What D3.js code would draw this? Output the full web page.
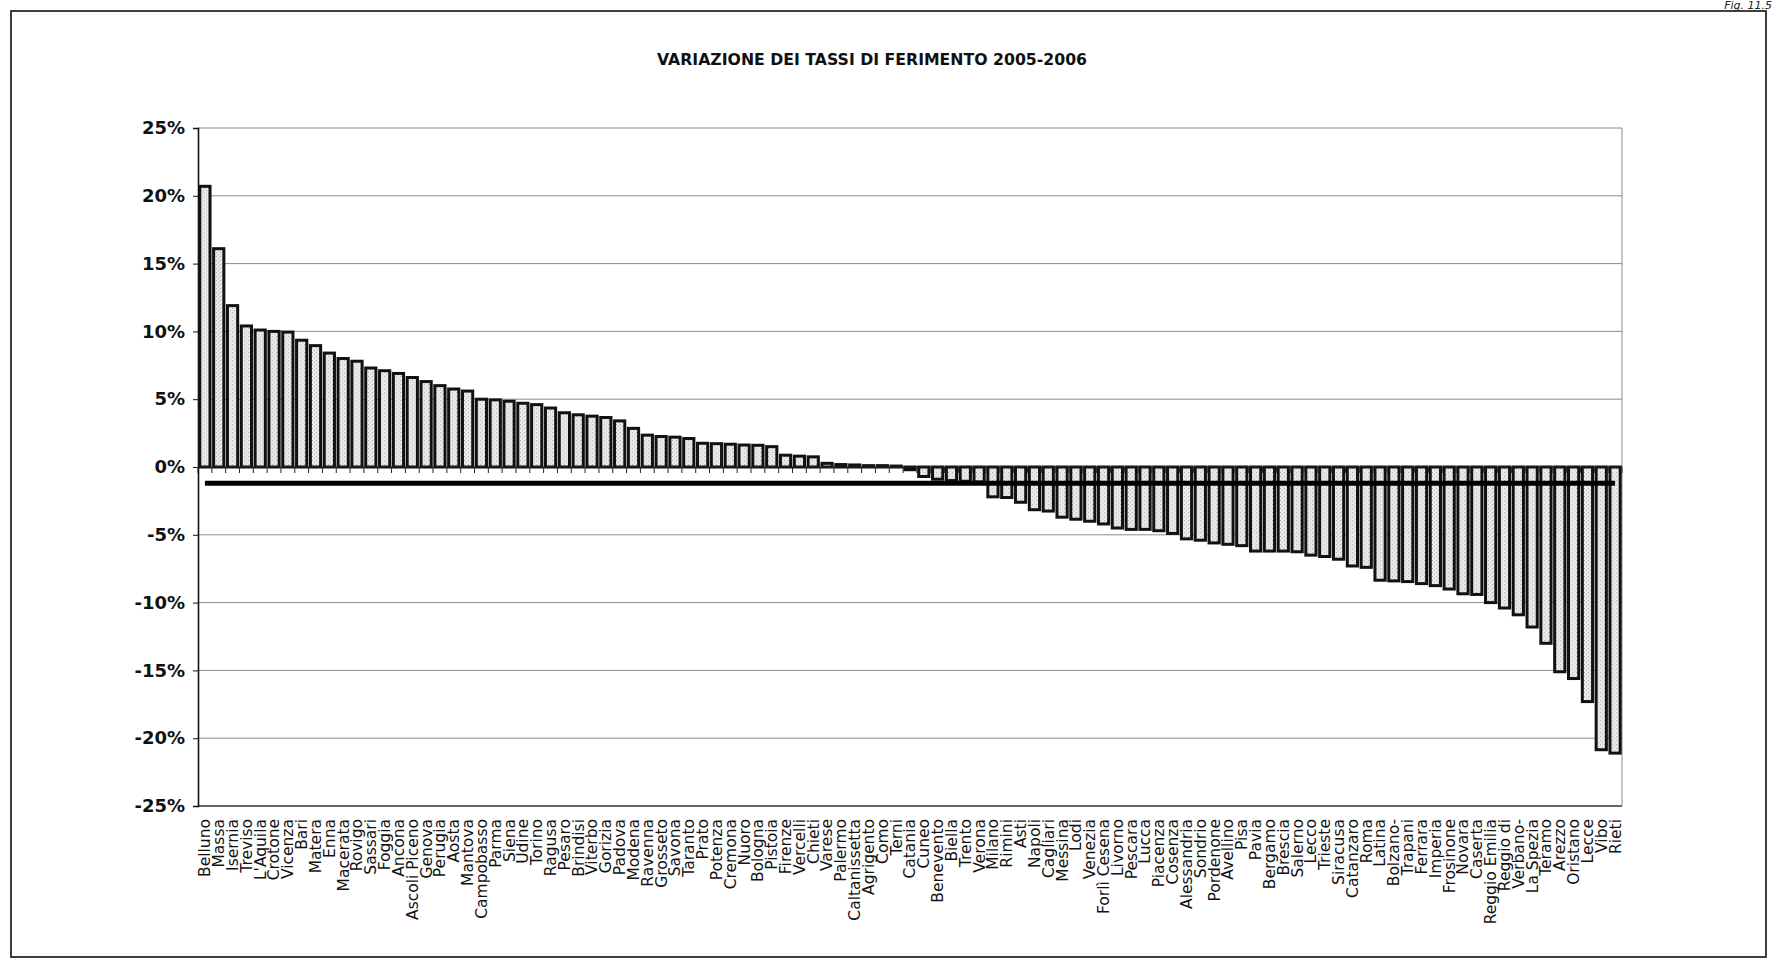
<!DOCTYPE html>
<html>
<head>
<meta charset="utf-8">
<script src="https://cdn.jsdelivr.net/npm/d3@7"></script>
<style>
  html, body { margin: 0; padding: 0; background: #fff; }
  svg { display: block; }
</style>
</head>
<body>
<svg id="chart" width="1776" height="962"></svg>
<script>
const titleText = "VARIAZIONE DEI TASSI DI FERIMENTO 2005-2006";
const figLabel = "Fig. 11.5";

const categories = [
  "Belluno","Massa","Isernia","Treviso","L'Aquila","Crotone","Vicenza","Bari","Matera","Enna",
  "Macerata","Rovigo","Sassari","Foggia","Ancona","Ascoli Piceno","Genova","Perugia","Aosta","Mantova",
  "Campobasso","Parma","Siena","Udine","Torino","Ragusa","Pesaro","Brindisi","Viterbo","Gorizia",
  "Padova","Modena","Ravenna","Grosseto","Savona","Taranto","Prato","Potenza","Cremona","Nuoro",
  "Bologna","Pistoia","Firenze","Vercelli","Chieti","Varese","Palermo","Caltanissetta","Agrigento","Como",
  "Terni","Catania","Cuneo","Benevento","Biella","Trento","Verona","Milano","Rimini","Asti",
  "Napoli","Cagliari","Messina","Lodi","Venezia","Forlì Cesena","Livorno","Pescara","Lucca","Piacenza",
  "Cosenza","Alessandria","Sondrio","Pordenone","Avellino","Pisa","Pavia","Bergamo","Brescia","Salerno",
  "Lecco","Trieste","Siracusa","Catanzaro","Roma","Latina","Bolzano-","Trapani","Ferrara","Imperia",
  "Frosinone","Novara","Caserta","Reggio Emilia","Reggio di","Verbano-","La Spezia","Teramo","Arezzo","Oristano",
  "Lecce","Vibo","Rieti"
];

// variazione % 2005-2006
const variazione = [
  20.7, 16.1, 11.9, 10.4, 10.1, 10.0, 9.95, 9.35, 8.95, 8.4,
  8.0, 7.8, 7.3, 7.1, 6.9, 6.6, 6.3, 6.0, 5.75, 5.6,
  5.0, 4.95, 4.85, 4.7, 4.6, 4.35, 4.0, 3.85, 3.75, 3.65,
  3.4, 2.85, 2.35, 2.25, 2.2, 2.1, 1.75, 1.72, 1.68, 1.62,
  1.6, 1.5, 0.87, 0.8, 0.75, 0.27, 0.18, 0.15, 0.1, 0.1,
  0.07, -0.2, -0.7, -0.9, -1.0, -1.05, -1.1, -2.2, -2.25, -2.6,
  -3.15, -3.25, -3.7, -3.85, -4.0, -4.2, -4.5, -4.6, -4.6, -4.7,
  -4.9, -5.3, -5.4, -5.6, -5.7, -5.8, -6.2, -6.2, -6.2, -6.25,
  -6.5, -6.6, -6.8, -7.3, -7.4, -8.35, -8.4, -8.45, -8.6, -8.75,
  -9.0, -9.35, -9.4, -10.0, -10.4, -10.9, -11.8, -13.0, -15.1, -15.6,
  -17.3, -20.85, -21.1
];

const mediaNazionale = -1.2;

const yTicks = [25, 20, 15, 10, 5, 0, -5, -10, -15, -20, -25];

const svg = d3.select("#chart");

const plot = { left: 198, right: 1622, top: 128, bottom: 806 };

const x = d3.scaleBand()
  .domain(categories)
  .range([plot.left, plot.right])
  .paddingInner(0.26)
  .paddingOuter(0.13);

const y = d3.scaleLinear()
  .domain([-25, 25])
  .range([plot.bottom, plot.top]);

// stipple pattern for bar fill
const defs = svg.append("defs");
const pat = defs.append("pattern")
  .attr("id", "stipple")
  .attr("patternUnits", "userSpaceOnUse")
  .attr("width", 4).attr("height", 4);
pat.append("rect").attr("width", 4).attr("height", 4).attr("fill", "#e8e8e8");
pat.append("rect").attr("x", 0).attr("y", 0).attr("width", 1).attr("height", 1).attr("fill", "#b4b4b4");
pat.append("rect").attr("x", 2).attr("y", 2).attr("width", 1).attr("height", 1).attr("fill", "#c4c4c4");

// outer frame
svg.append("rect")
  .attr("x", 11).attr("y", 11)
  .attr("width", 1755).attr("height", 946)
  .attr("fill", "none").attr("stroke", "#111").attr("stroke-width", 1.6);

// fig label
svg.append("text")
  .attr("x", 1772).attr("y", 9)
  .attr("text-anchor", "end")
  .attr("font-family", "DejaVu Sans, sans-serif")
  .attr("font-style", "italic")
  .attr("font-size", 11)
  .attr("fill", "#222")
  .text(figLabel);

// title
svg.append("text")
  .attr("x", 872).attr("y", 65)
  .attr("text-anchor", "middle")
  .attr("font-family", "DejaVu Sans, sans-serif")
  .attr("font-weight", "bold")
  .attr("font-size", 15.5)
  .attr("textLength", 430)
  .attr("lengthAdjust", "spacingAndGlyphs")
  .attr("fill", "#111")
  .text(titleText);

// gridlines
svg.append("g")
  .selectAll("line")
  .data(yTicks)
  .join("line")
  .attr("x1", plot.left).attr("x2", plot.right)
  .attr("y1", d => y(d)).attr("y2", d => y(d))
  .attr("stroke", d => d === -25 ? "#333" : "#8c8c8c")
  .attr("stroke-width", d => d === -25 ? 1.4 : 1);

// right border of plot
svg.append("line")
  .attr("x1", plot.right).attr("x2", plot.right)
  .attr("y1", y(25)).attr("y2", y(-25))
  .attr("stroke", "#8c8c8c").attr("stroke-width", 1);

// y axis
const yAxis = svg.append("g")
  .attr("transform", `translate(${plot.left},0)`)
  .call(d3.axisLeft(y).tickValues(yTicks).tickFormat(d => d + "%").tickSize(5).tickPadding(8));
yAxis.select(".domain").attr("stroke", "#111").attr("stroke-width", 1.6);
yAxis.selectAll(".tick line").attr("stroke", "#111");
yAxis.selectAll(".tick text")
  .attr("font-family", "DejaVu Sans, sans-serif")
  .attr("font-weight", "bold")
  .attr("font-size", 18)
  .attr("fill", "#111");

// bars
svg.append("g")
  .selectAll("rect")
  .data(categories.map((c, i) => ({ c, v: variazione[i] })))
  .join("rect")
  .attr("x", d => x(d.c))
  .attr("width", x.bandwidth())
  .attr("y", d => y(Math.max(0, d.v)))
  .attr("height", d => Math.abs(y(d.v) - y(0)))
  .attr("fill", "url(#stipple)")
  .attr("stroke", "#111")
  .attr("stroke-width", 3);

// zero axis with category ticks between bars
const step = x.step();
const boundaries = categories.map(c => x(c) - step * x.paddingInner() / 2)
  .concat([x(categories[categories.length - 1]) + x.bandwidth() + step * x.paddingInner() / 2]);
svg.append("line")
  .attr("x1", plot.left).attr("x2", plot.right)
  .attr("y1", y(0)).attr("y2", y(0))
  .attr("stroke", "#222").attr("stroke-width", 1);
svg.append("g")
  .selectAll("line")
  .data(boundaries)
  .join("line")
  .attr("x1", d => d).attr("x2", d => d)
  .attr("y1", y(0)).attr("y2", y(0) + 6)
  .attr("stroke", "#222").attr("stroke-width", 1);

// national average line
const xFirst = x(categories[0]) + x.bandwidth() / 2;
const xLast = x(categories[categories.length - 1]) + x.bandwidth() / 2;
svg.append("path")
  .attr("d", d3.line()([[xFirst, y(mediaNazionale)], [xLast, y(mediaNazionale)]]))
  .attr("stroke", "#000")
  .attr("stroke-width", 5)
  .attr("fill", "none");

// category labels
svg.append("g")
  .selectAll("text")
  .data(categories)
  .join("text")
  .attr("transform", d => `translate(${x(d) + x.bandwidth() / 2},819) rotate(-90)`)
  .attr("text-anchor", "end")
  .attr("dy", "0.35em")
  .attr("font-family", "DejaVu Sans, sans-serif")
  .attr("font-size", 15.5)
  .attr("fill", "#111")
  .text(d => d);
</script>
</body>
</html>
